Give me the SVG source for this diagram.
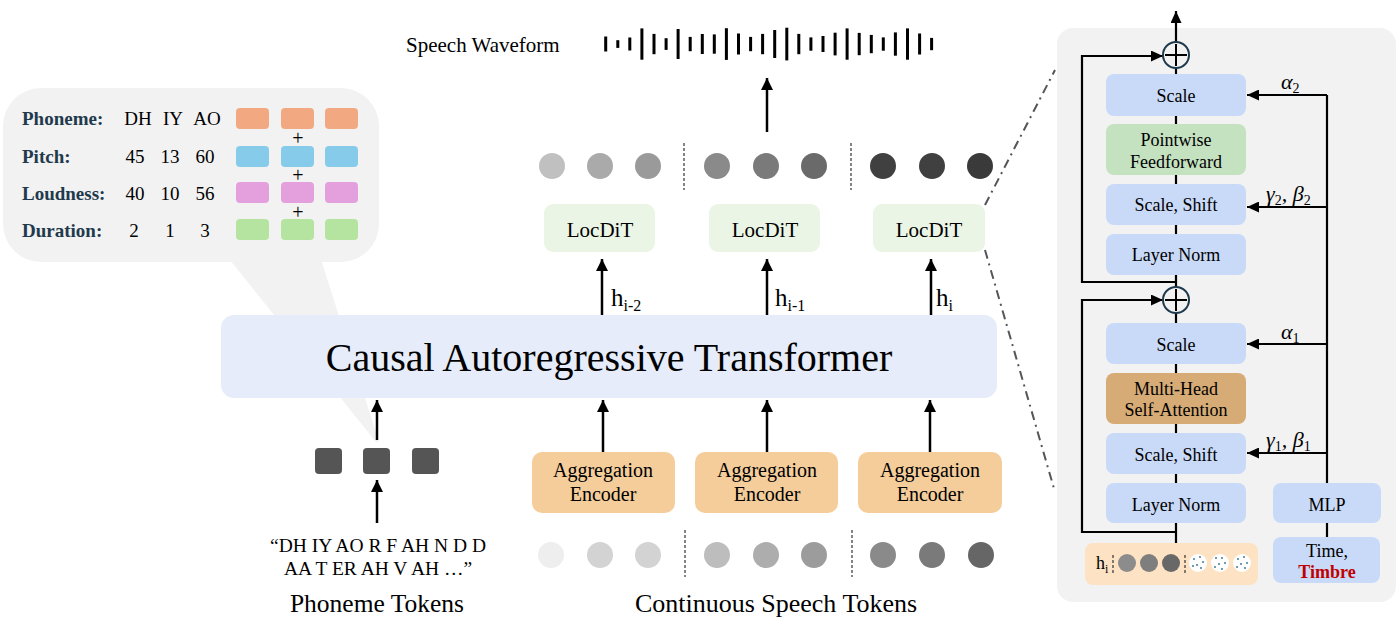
<svg xmlns="http://www.w3.org/2000/svg" width="1397" height="634" viewBox="0 0 1397 634">
<defs>
<style>
text{font-family:"Liberation Serif","Times New Roman",serif;fill:#000}
.lbl{font-weight:bold;fill:#1f3a4d;font-size:19px}
.val{font-size:19px;text-anchor:middle}
.plus{font-size:20px;text-anchor:middle}
.blue{fill:#c9daf8}
.box18{font-size:18px;text-anchor:middle}
.agg{fill:#f4cd9b}
.loc{fill:#ebf5e6}
.ln{stroke:#000;stroke-width:2.5;fill:none}
.pl{stroke:#000;stroke-width:2.2;fill:none}
.dd{stroke:#333;stroke-width:1.2;stroke-dasharray:3 2}
.dashdot{stroke:#555;stroke-width:2;fill:none;stroke-dasharray:9 5 2 5}
.greek{font-style:italic;font-size:22px}
</style>
<marker id="ah" markerUnits="userSpaceOnUse" markerWidth="12" markerHeight="12" refX="12" refY="6" orient="auto"><path d="M0,0 L12,6 L0,12 z" fill="#000"/></marker>
<marker id="ahs" markerUnits="userSpaceOnUse" markerWidth="12" markerHeight="11" refX="12" refY="5.5" orient="auto"><path d="M0,0 L12,5.5 L0,11 z" fill="#000"/></marker>
</defs>
<rect width="1397" height="634" fill="#fff"/>

<!-- callout bubble -->
<g id="bubble">
<polygon points="222,250 318,250 379,442 376,442" fill="#f2f2f2"/>
<rect x="3" y="88" width="376" height="174" rx="38" fill="#f2f2f2"/>
<text class="lbl" x="22" y="125">Phoneme:</text>
<text class="lbl" x="22" y="163">Pitch:</text>
<text class="lbl" x="22" y="200">Loudness:</text>
<text class="lbl" x="22" y="237">Duration:</text>
<text class="val" x="138" y="125">DH</text><text class="val" x="173" y="125">IY</text><text class="val" x="207" y="125">AO</text>
<text class="val" x="135" y="163">45</text><text class="val" x="170" y="163">13</text><text class="val" x="205" y="163">60</text>
<text class="val" x="135" y="200">40</text><text class="val" x="170" y="200">10</text><text class="val" x="205" y="200">56</text>
<text class="val" x="134" y="237">2</text><text class="val" x="170" y="237">1</text><text class="val" x="205" y="237">3</text>
<g fill="#f2a982"><rect x="236" y="108" width="33" height="21" rx="4"/><rect x="281" y="108" width="33" height="21" rx="4"/><rect x="325" y="108" width="33" height="21" rx="4"/></g>
<g fill="#86cbea"><rect x="236" y="146" width="33" height="21" rx="4"/><rect x="281" y="146" width="33" height="21" rx="4"/><rect x="325" y="146" width="33" height="21" rx="4"/></g>
<g fill="#e4a0dc"><rect x="236" y="182" width="33" height="21" rx="4"/><rect x="281" y="182" width="33" height="21" rx="4"/><rect x="325" y="182" width="33" height="21" rx="4"/></g>
<g fill="#b5e4a0"><rect x="236" y="219" width="33" height="21" rx="4"/><rect x="281" y="219" width="33" height="21" rx="4"/><rect x="325" y="219" width="33" height="21" rx="4"/></g>
<text class="plus" x="298" y="145">+</text>
<text class="plus" x="298" y="182">+</text>
<text class="plus" x="298" y="219">+</text>
</g>

<!-- transformer -->
<g id="transformer">
<rect x="221" y="315" width="776" height="83" rx="13" fill="#e6ecf9"/>
<text x="609" y="371" font-size="40" text-anchor="middle">Causal Autoregressive Transformer</text>
</g>

<!-- phoneme tokens -->
<g id="phoneme-tokens">
<rect x="315" y="448" width="27" height="26" rx="4" fill="#555"/>
<rect x="363" y="448" width="27" height="26" rx="4" fill="#555"/>
<rect x="412" y="448" width="27" height="26" rx="4" fill="#555"/>
<text x="378" y="552" font-size="19.5" text-anchor="middle">“DH IY AO R F AH N D D</text>
<text x="378" y="575" font-size="19.5" text-anchor="middle">AA T ER AH V AH …”</text>
<text x="377" y="612" font-size="25.5" text-anchor="middle">Phoneme Tokens</text>
</g>

<!-- aggregation encoders -->
<g id="agg1"><rect class="agg" x="532" y="452" width="143" height="61" rx="10"/><text class="box18" x="603" y="477" style="font-size:20px">Aggregation</text><text class="box18" x="603" y="501" style="font-size:20px">Encoder</text></g>
<g id="agg2"><rect class="agg" x="695" y="452" width="143" height="61" rx="10"/><text class="box18" x="767" y="477" style="font-size:20px">Aggregation</text><text class="box18" x="767" y="501" style="font-size:20px">Encoder</text></g>
<g id="agg3"><rect class="agg" x="858" y="452" width="144" height="61" rx="10"/><text class="box18" x="930" y="477" style="font-size:20px">Aggregation</text><text class="box18" x="930" y="501" style="font-size:20px">Encoder</text></g>

<!-- continuous speech tokens -->
<g id="speech-tokens">
<circle cx="551" cy="555" r="13" fill="#eeeeee"/><circle cx="600" cy="555" r="13" fill="#d3d3d3"/><circle cx="648" cy="555" r="13" fill="#d3d3d3"/>
<circle cx="717" cy="555" r="13" fill="#bdbdbd"/><circle cx="766" cy="555" r="13" fill="#adadad"/><circle cx="814" cy="555" r="13" fill="#9c9c9c"/>
<circle cx="883" cy="555" r="13" fill="#8a8a8a"/><circle cx="932" cy="555" r="13" fill="#7a7a7a"/><circle cx="981" cy="555" r="13" fill="#666"/>
<line class="dd" x1="685" y1="530" x2="685" y2="577"/><line class="dd" x1="852" y1="530" x2="852" y2="577"/>
<text x="776" y="612" font-size="26" text-anchor="middle">Continuous Speech Tokens</text>
</g>

<!-- LocDiT -->
<g id="locdit1"><rect class="loc" x="544" y="204" width="111" height="48" rx="9"/><text x="600" y="237" font-size="21" text-anchor="middle">LocDiT</text></g>
<g id="locdit2"><rect class="loc" x="709" y="204" width="111" height="48" rx="9"/><text x="765" y="237" font-size="21" text-anchor="middle">LocDiT</text></g>
<g id="locdit3"><rect class="loc" x="873" y="204" width="112" height="48" rx="9"/><text x="929" y="237" font-size="21" text-anchor="middle">LocDiT</text></g>

<!-- output latent tokens -->
<g id="output-tokens">
<circle cx="552" cy="166" r="13" fill="#c0c0c0"/><circle cx="600" cy="166" r="13" fill="#aaaaaa"/><circle cx="648" cy="166" r="13" fill="#9a9a9a"/>
<circle cx="717" cy="166" r="13" fill="#8a8a8a"/><circle cx="766" cy="166" r="13" fill="#7a7a7a"/><circle cx="814" cy="166" r="13" fill="#6a6a6a"/>
<circle cx="883" cy="166" r="13" fill="#404040"/><circle cx="932" cy="166" r="13" fill="#404040"/><circle cx="980" cy="166" r="13" fill="#3a3a3a"/>
<line class="dd" x1="684" y1="143" x2="684" y2="190"/><line class="dd" x1="851" y1="143" x2="851" y2="190"/>
</g>

<!-- waveform -->
<g id="waveform">
<text x="406" y="52" font-size="21">Speech Waveform</text>
<g fill="#000">
<rect x="604.2" y="36.5" width="3" height="15"/>
<rect x="616.3" y="40.2" width="3" height="7.7"/>
<rect x="628.3" y="37.5" width="3" height="13"/>
<rect x="640.4" y="28.4" width="3" height="31.3"/>
<rect x="652.5" y="33.9" width="3" height="20.3"/>
<rect x="664.6" y="38.2" width="3" height="11.7"/>
<rect x="676.6" y="29" width="3" height="30"/>
<rect x="688.7" y="36.9" width="3" height="14.3"/>
<rect x="700.8" y="34" width="3" height="20"/>
<rect x="712.8" y="34.4" width="3" height="19.3"/>
<rect x="724.9" y="28.2" width="3" height="31.7"/>
<rect x="737" y="33.5" width="3" height="21"/>
<rect x="749.1" y="36.9" width="3" height="14.3"/>
<rect x="761.1" y="33.9" width="3" height="20.3"/>
<rect x="773.2" y="30" width="3" height="28"/>
<rect x="785.3" y="27.7" width="3" height="32.7"/>
<rect x="797.3" y="33.9" width="3" height="20.3"/>
<rect x="809.4" y="37.4" width="3" height="13.3"/>
<rect x="821.5" y="36" width="3" height="16"/>
<rect x="833.6" y="32.7" width="3" height="22.7"/>
<rect x="845.6" y="28.4" width="3" height="31.3"/>
<rect x="857.7" y="32.9" width="3" height="22.3"/>
<rect x="869.8" y="34.9" width="3" height="18.3"/>
<rect x="881.8" y="37.4" width="3" height="13.3"/>
<rect x="893.9" y="32.4" width="3" height="23.3"/>
<rect x="906" y="28.4" width="3" height="31.3"/>
<rect x="918.1" y="33.5" width="3" height="21"/>
<rect x="930.1" y="37.9" width="3" height="12.3"/>
</g>
</g>

<!-- connectors -->
<g id="connectors">
<line class="ln" x1="377" y1="523" x2="377" y2="480" marker-end="url(#ah)"/>
<line class="ln" x1="377" y1="440" x2="377" y2="400" marker-end="url(#ah)"/>
<line class="ln" x1="603" y1="452" x2="603" y2="400" marker-end="url(#ah)"/>
<line class="ln" x1="767" y1="452" x2="767" y2="400" marker-end="url(#ah)"/>
<line class="ln" x1="930" y1="452" x2="930" y2="400" marker-end="url(#ah)"/>
<line class="ln" x1="602" y1="315" x2="602" y2="259" marker-end="url(#ah)"/>
<line class="ln" x1="767" y1="315" x2="767" y2="259" marker-end="url(#ah)"/>
<line class="ln" x1="931" y1="315" x2="931" y2="259" marker-end="url(#ah)"/>
<line class="ln" x1="767" y1="132" x2="767" y2="78" marker-end="url(#ah)"/>
<text x="611" y="306" font-size="25">h<tspan font-size="16" dy="5">i-2</tspan></text>
<text x="775" y="306" font-size="25">h<tspan font-size="16" dy="5">i-1</tspan></text>
<text x="936" y="306" font-size="25">h<tspan font-size="16" dy="5">i</tspan></text>
<path class="dashdot" d="M985,205 L1055,70"/>
<path class="dashdot" d="M985,250 L1055,492"/>
</g>

<!-- LocDiT detail panel -->
<g id="panel">
<rect x="1057" y="28" width="339" height="574" rx="16" fill="#f2f2f2"/>
</g>
<g id="panel-connectors">
<line class="pl" x1="1176" y1="543" x2="1176" y2="11" marker-end="url(#ahs)"/>
<path class="pl" d="M1176,532 H1082 V300 H1163" marker-end="url(#ahs)"/>
<path class="pl" d="M1176,282 H1082 V56 H1163" marker-end="url(#ahs)"/>
<path class="pl" d="M1327,537 V95"/>
<line class="pl" x1="1327" y1="95" x2="1247" y2="95" marker-end="url(#ahs)"/>
<line class="pl" x1="1327" y1="207" x2="1247" y2="207" marker-end="url(#ahs)"/>
<line class="pl" x1="1327" y1="344" x2="1247" y2="344" marker-end="url(#ahs)"/>
<line class="pl" x1="1327" y1="453" x2="1247" y2="453" marker-end="url(#ahs)"/>
<text class="greek" x="1281" y="89">α<tspan font-size="14" dy="4" font-style="normal">2</tspan></text>
<text class="greek" x="1266" y="201">γ<tspan font-size="14" dy="4" font-style="normal">2</tspan><tspan dy="-4">, β</tspan><tspan font-size="14" dy="4" font-style="normal">2</tspan></text>
<text class="greek" x="1281" y="339">α<tspan font-size="14" dy="4" font-style="normal">1</tspan></text>
<text class="greek" x="1266" y="447">γ<tspan font-size="14" dy="4" font-style="normal">1</tspan><tspan dy="-4">, β</tspan><tspan font-size="14" dy="4" font-style="normal">1</tspan></text>
</g>
<g id="plus-upper"><circle cx="1176" cy="55" r="13" fill="#f2f2f2" stroke="#1f3a4d" stroke-width="2"/><path d="M1165,55 H1187 M1176,44 V66" stroke="#000" stroke-width="2"/></g>
<g id="plus-lower"><circle cx="1176" cy="300" r="13" fill="#f2f2f2" stroke="#1f3a4d" stroke-width="2"/><path d="M1165,300 H1187 M1176,289 V311" stroke="#000" stroke-width="2"/></g>
<g id="scale2"><rect class="blue" x="1106" y="74" width="140" height="42" rx="8"/><text class="box18" x="1176" y="102">Scale</text></g>
<g id="ffn"><rect x="1106" y="124" width="140" height="51" rx="8" fill="#c4e2c0"/><text class="box18" x="1176" y="146">Pointwise</text><text class="box18" x="1176" y="168">Feedforward</text></g>
<g id="scaleshift2"><rect class="blue" x="1106" y="184" width="140" height="41" rx="8"/><text class="box18" x="1176" y="211">Scale, Shift</text></g>
<g id="layernorm2"><rect class="blue" x="1106" y="234" width="140" height="41" rx="8"/><text class="box18" x="1176" y="261">Layer Norm</text></g>
<g id="scale1"><rect class="blue" x="1106" y="323" width="140" height="41" rx="8"/><text class="box18" x="1176" y="351">Scale</text></g>
<g id="mhsa"><rect x="1106" y="373" width="140" height="51" rx="8" fill="#d6ab75"/><text class="box18" x="1176" y="395">Multi-Head</text><text class="box18" x="1176" y="416">Self-Attention</text></g>
<g id="scaleshift1"><rect class="blue" x="1106" y="433" width="140" height="41" rx="8"/><text class="box18" x="1176" y="461">Scale, Shift</text></g>
<g id="layernorm1"><rect class="blue" x="1106" y="483" width="140" height="40" rx="8"/><text class="box18" x="1176" y="511">Layer Norm</text></g>
<g id="mlp"><rect class="blue" x="1273" y="483" width="108" height="40" rx="8"/><text class="box18" x="1327" y="511">MLP</text></g>
<g id="time-timbre"><rect class="blue" x="1273" y="537" width="107" height="46" rx="8"/><text class="box18" x="1327" y="557">Time,</text><text class="box18" x="1327" y="578" style="font-weight:bold;fill:#c00000">Timbre</text></g>
<g id="input-seq">
<rect x="1085" y="543" width="173" height="42" rx="8" fill="#fde3c3"/>
<text x="1096" y="569" font-size="18">h<tspan font-size="12" dy="4">i</tspan></text>
<line class="dd" x1="1113" y1="555" x2="1113" y2="573"/>
<line class="dd" x1="1185" y1="555" x2="1185" y2="573"/>
<circle cx="1127" cy="563" r="9" fill="#8c8c8c"/><circle cx="1149" cy="563" r="9" fill="#7e7e7e"/><circle cx="1171" cy="563" r="9" fill="#686868"/>
<g fill="#fff"><circle cx="1198" cy="563" r="9"/><circle cx="1220" cy="563" r="9"/><circle cx="1242" cy="563" r="9"/></g>
<g fill="#2a6f8f">
<circle cx="1194" cy="559" r="0.9"/><circle cx="1200" cy="557" r="0.9"/><circle cx="1203" cy="562" r="0.9"/><circle cx="1197" cy="565" r="0.9"/><circle cx="1193" cy="566" r="0.9"/><circle cx="1201" cy="568" r="0.9"/>
<circle cx="1216" cy="558" r="0.9"/><circle cx="1222" cy="558" r="0.9"/><circle cx="1225" cy="563" r="0.9"/><circle cx="1219" cy="564" r="0.9"/><circle cx="1215" cy="567" r="0.9"/><circle cx="1222" cy="569" r="0.9"/>
<circle cx="1238" cy="559" r="0.9"/><circle cx="1244" cy="557" r="0.9"/><circle cx="1247" cy="563" r="0.9"/><circle cx="1241" cy="564" r="0.9"/><circle cx="1237" cy="567" r="0.9"/><circle cx="1245" cy="568" r="0.9"/>
</g>
</g>
</svg>
